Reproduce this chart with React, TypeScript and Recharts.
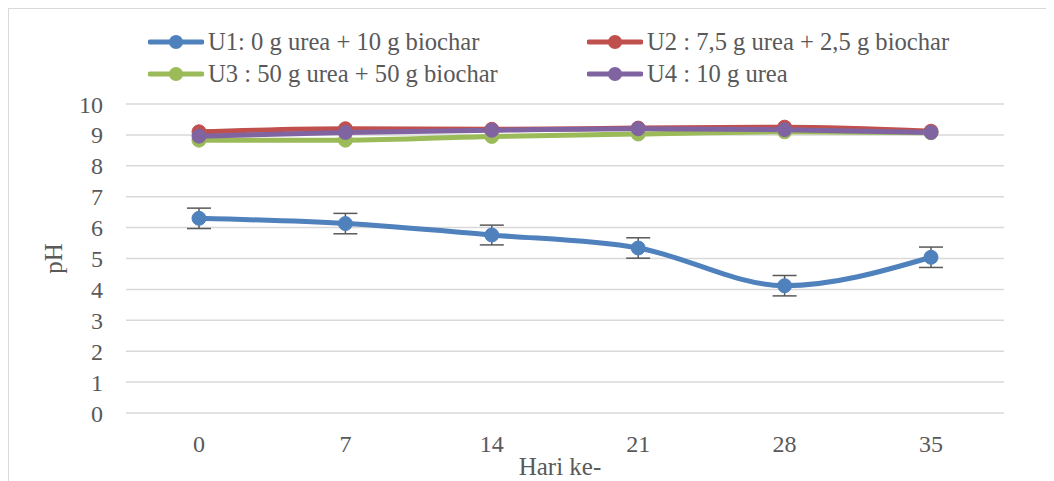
import React from 'react';
import { LineChart, Line, XAxis, YAxis, CartesianGrid, Legend, ErrorBar, Label } from 'recharts';

const days = ['0', '7', '14', '21', '28', '35'];
const u1 = [6.3, 6.13, 5.76, 5.34, 4.12, 5.04];
const u1Err = [0.33, 0.33, 0.32, 0.33, 0.33, 0.33];
const u2 = [9.1, 9.2, 9.18, 9.22, 9.25, 9.12];
const u3 = [8.83, 8.83, 8.95, 9.03, 9.1, 9.07];
const u4 = [8.96, 9.08, 9.15, 9.2, 9.17, 9.08];
const yTicks = [0, 1, 2, 3, 4, 5, 6, 7, 8, 9, 10];

const series = [
  { key: 'u1', name: 'U1: 0 g urea + 10 g biochar', color: '#4F81BD' },
  { key: 'u2', name: 'U2 : 7,5 g urea + 2,5 g biochar', color: '#C0504D' },
  { key: 'u3', name: 'U3 : 50 g urea + 50 g biochar', color: '#9BBB59' },
  { key: 'u4', name: 'U4 : 10 g urea', color: '#8064A2' },
];

const data = days.map((d, i) => ({
  day: d,
  u1: u1[i],
  u1Err: u1Err[i],
  u2: u2[i],
  u3: u3[i],
  u4: u4[i],
}));

const FONT = '"Liberation Serif", "Times New Roman", serif';
const TEXT = '#595959';

// legend grid: 2 columns x 2 rows
const legendCols = [139, 578];
const legendRows = [13, 45];

const LegendBox = () => (
  <div style={{ position: 'relative', width: 1045, height: 75 }}>
    {series.map((s, i) => (
      <div
        key={s.key}
        style={{
          position: 'absolute',
          left: legendCols[i % 2],
          top: legendRows[Math.floor(i / 2)] - 15,
          height: 30,
          display: 'flex',
          alignItems: 'center',
          fontFamily: FONT,
          fontSize: 24.6,
          color: TEXT,
          whiteSpace: 'nowrap',
        }}
      >
        <svg width={56} height={20} style={{ marginRight: 4 }}>
          <line x1={2} y1={10} x2={54} y2={10} stroke={s.color} strokeWidth={5} strokeLinecap="round" />
          <circle cx={28} cy={10} r={7} fill={s.color} />
        </svg>
        <span>{s.name}</span>
      </div>
    ))}
  </div>
);

const YTitle = ({ viewBox }: any) => {
  const x = viewBox.x - 4;
  const y = viewBox.y + viewBox.height / 2;
  return (
    <text x={x} y={y} transform={`rotate(-90 ${x} ${y})`} textAnchor="middle" fill={TEXT} fontFamily={FONT} fontSize={25}>
      pH
    </text>
  );
};

const XTitle = ({ viewBox }: any) => {
  const x = viewBox.x + viewBox.width / 2 - 5;
  const y = viewBox.y + 62;
  return (
    <text x={x} y={y} textAnchor="middle" fill={TEXT} fontFamily={FONT} fontSize={25}>
      Hari ke-
    </text>
  );
};

export default function App() {
  return (
    <div
      style={{
        position: 'relative',
        width: 1046,
        height: 473,
        borderLeft: '1px solid #d9d9d9',
        borderTop: '1px solid #d9d9d9',
        boxSizing: 'border-box',
        background: '#fff',
      }}
    >
      <LineChart width={1045} height={472} data={data} margin={{ top: 20, right: 50, bottom: 28, left: 57 }}>
        <CartesianGrid vertical={false} stroke="#d9d9d9" strokeWidth={1.5} />
        <XAxis
          dataKey="day"
          axisLine={false}
          tickLine={false}
          tickSize={0}
          tickMargin={22}
          height={40}
          padding={{ left: 73, right: 73 }}
          tick={{ fill: TEXT, fontSize: 24, fontFamily: FONT }}
        >
          <Label content={<XTitle />} />
        </XAxis>
        <YAxis
          domain={[0, 10]}
          ticks={yTicks}
          interval={0}
          axisLine={false}
          tickLine={false}
          tickSize={0}
          tickMargin={23}
          width={60}
          tick={{ fill: TEXT, fontSize: 24, fontFamily: FONT }}
        >
          <Label content={<YTitle />} />
        </YAxis>
        <Legend verticalAlign="top" content={<LegendBox />} wrapperStyle={{ top: 20, left: 0, width: 1045, height: 75 }} />
        {series.map((s) => (
          <Line
            key={s.key}
            type="monotone"
            dataKey={s.key}
            name={s.name}
            stroke={s.color}
            strokeWidth={5}
            dot={{ r: 7, fill: s.color, stroke: s.color, strokeWidth: 1 }}
            activeDot={false}
            isAnimationActive={false}
          >
            {s.key === 'u1' && (
              <ErrorBar dataKey="u1Err" direction="y" width={12} stroke="#595959" strokeWidth={1.5} />
            )}
          </Line>
        ))}
      </LineChart>
    </div>
  );
}
